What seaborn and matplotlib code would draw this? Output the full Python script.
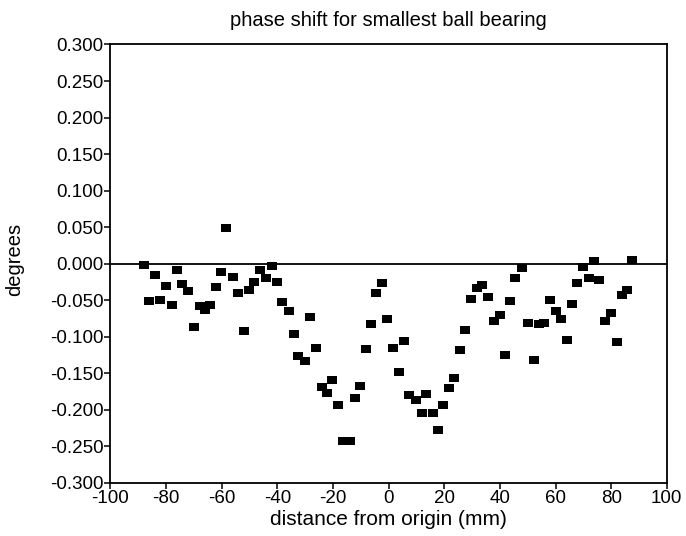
import matplotlib
matplotlib.use("Agg")
import matplotlib.pyplot as plt
import seaborn as sns
import numpy as np
import pandas as pd

distance_mm = [
    -88.0, -86.1, -84.0, -82.2, -80.2, -78.0, -76.0, -74.1, -72.1, -70.0,
    -67.9, -66.1, -64.3, -62.1, -60.1, -58.3, -55.9, -54.1, -52.1, -50.3,
    -48.4, -46.1, -44.2, -42.1, -40.3, -38.3, -35.9, -34.1, -32.6, -30.2,
    -28.1, -26.0, -23.9, -22.0, -20.4, -18.2, -16.5, -14.0, -12.2, -10.4,
    -8.3, -6.4, -4.4, -2.4, -0.5, 1.7, 3.6, 5.7, 7.5, 9.7,
    12.0, 13.5, 15.9, 17.7, 19.7, 21.7, 23.6, 25.6, 27.5, 29.7,
    31.7, 33.5, 35.7, 37.8, 39.9, 42.0, 43.7, 45.6, 47.9, 50.0,
    52.1, 53.9, 56.0, 58.1, 60.0, 62.0, 64.0, 65.8, 67.8, 70.0,
    71.9, 73.7, 75.8, 77.8, 80.0, 82.0, 83.9, 85.7, 87.6,
]
phase_deg = [
    -0.002, -0.051, -0.015, -0.050, -0.030, -0.056, -0.009, -0.028, -0.038, -0.087,
    -0.058, -0.064, -0.056, -0.032, -0.011, 0.049, -0.018, -0.040, -0.092, -0.036,
    -0.025, -0.009, -0.020, -0.003, -0.025, -0.052, -0.065, -0.097, -0.127, -0.134,
    -0.073, -0.116, -0.169, -0.177, -0.160, -0.193, -0.243, -0.243, -0.184, -0.167,
    -0.117, -0.083, -0.040, -0.026, -0.076, -0.116, -0.148, -0.106, -0.180, -0.187,
    -0.205, -0.178, -0.205, -0.228, -0.193, -0.170, -0.156, -0.118, -0.091, -0.048,
    -0.033, -0.029, -0.046, -0.078, -0.071, -0.125, -0.051, -0.020, -0.006, -0.081,
    -0.132, -0.083, -0.081, -0.050, -0.065, -0.076, -0.105, -0.055, -0.027, -0.005,
    -0.020, 0.004, -0.022, -0.078, -0.067, -0.107, -0.043, -0.036, 0.005,
]

x_ticks = [-100, -80, -60, -40, -20, 0, 20, 40, 60, 80, 100]
y_ticks = [-0.300, -0.250, -0.200, -0.150, -0.100, -0.050, 0.000,
           0.050, 0.100, 0.150, 0.200, 0.250, 0.300]

df = pd.DataFrame({"distance": distance_mm, "phase": phase_deg})

sns.set_style("ticks")
plt.rcParams["font.family"] = ["Liberation Sans", "DejaVu Sans"]
plt.rcParams["axes.unicode_minus"] = False
plt.rcParams["text.color"] = "black"
plt.rcParams["axes.labelcolor"] = "black"

fig = plt.figure(figsize=(6.86, 5.36), dpi=100)
ax = fig.add_axes([0.161, 0.0994, 0.811, 0.8176])

rect = [(-1.3, -1.0), (1.3, -1.0), (1.3, 1.0), (-1.3, 1.0), (-1.3, -1.0)]
ax.axhline(0, color="black", lw=1.3, zorder=1)
sns.scatterplot(data=df, x="distance", y="phase", ax=ax, marker=rect,
                s=62, color="black", edgecolor="black", linewidth=0, zorder=3)

ax.set_xlim(-100, 100)
ax.set_ylim(-0.3, 0.3)
ax.set_xticks(x_ticks)
ax.set_xticklabels([str(t) for t in x_ticks])
ax.set_yticks(y_ticks)
ax.set_yticklabels([f"{t:.3f}" for t in y_ticks])

for sp in ax.spines.values():
    sp.set_visible(True)
    sp.set_color("black")
    sp.set_linewidth(1.3)

ax.tick_params(axis="both", direction="out", length=4, width=1.1,
               labelsize=13.5, pad=1, colors="black")
ax.set_xlabel("distance from origin (mm)", fontsize=15, color="black")
ax.set_ylabel("degrees", fontsize=14.5, color="black")
ax.xaxis.set_label_coords(0.5, -0.063)
ax.yaxis.set_label_coords(-0.155, 0.51)
ax.set_title("phase shift for smallest ball bearing", fontsize=14.5, pad=13,
             color="black")

fig.savefig("out.png", dpi=100)
